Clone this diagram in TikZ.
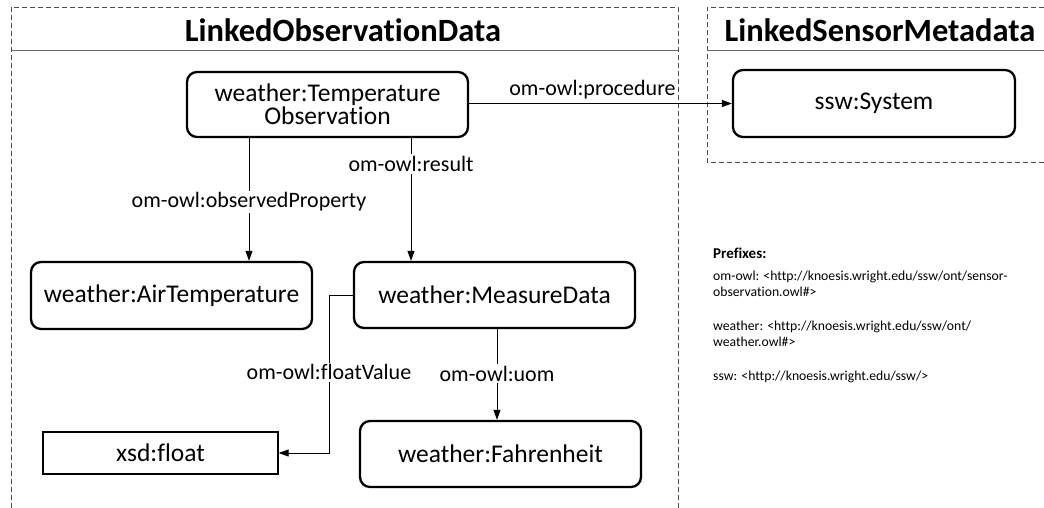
\documentclass[tikz,border=0pt]{standalone}
\usepackage{fontspec}
\setmainfont{Carlito}[Ligatures={NoCommon,NoContextual}]
\usetikzlibrary{arrows.meta}
\begin{document}
\begin{tikzpicture}[x=1pt,y=-1pt,
  frame/.style={draw=black!70,line width=0.9pt,dash pattern=on 5pt off 3pt},
  sep/.style={draw=black!60,line width=1pt},
  title/.style={font=\fontsize{32.5}{34}\selectfont\bfseries,inner sep=0pt},
  cls/.style={draw,line width=2.3pt,rounded corners=10pt,inner sep=0pt,align=center,
    font=\fontsize{25.5}{23}\selectfont},
  lit/.style={draw,line width=1.3pt,inner sep=0pt,font=\fontsize{25.5}{24}\selectfont},
  arr/.style={line width=0.9pt,-{Triangle[length=10pt,width=7pt]}},
  lbl/.style={fill=white,inner sep=2pt,font=\fontsize{22}{22}\selectfont},
  pfx/.style={anchor=west,inner sep=0pt,font=\fontsize{13.7}{14}\selectfont}]
\useasboundingbox (0,0) rectangle (1044,508);
% frames
\draw[frame] (11,508) -- (11,7) -- (678,7) -- (678,508);
\draw[sep] (11,51) -- (678,51);
\draw[frame] (1044,7) -- (707,7) -- (707,162) -- (1044,162);
\draw[sep] (707,51) -- (1044,51);
\node[title] (t1) at (343,30) {LinkedObservationData};
\node[title] (t2) at (880,30) {LinkedSensorMetadata};
% nodes
\node[cls,minimum width=281pt,minimum height=65pt] (TO) at (327.5,104.5)
  {weather:Temperature\\Observation};
\node[cls,minimum width=282pt,minimum height=67pt] (SY) at (874,103.5) {ssw:System};
\node[cls,minimum width=281pt,minimum height=67pt] (AT) at (171.5,295.5) {weather:AirTemperature};
\node[cls,minimum width=281pt,minimum height=66pt] (MD) at (494.5,295) {weather:MeasureData};
\node[cls,minimum width=281pt,minimum height=66pt] (FH) at (500.5,454) {weather:Fahrenheit};
\node[lit,minimum width=235pt,minimum height=42pt] (XF) at (160.5,453) {xsd:float};
% helper coordinates
\coordinate (cop) at (249,0);
\coordinate (cres) at (411,0);
\coordinate (cfv) at (329,0);
\coordinate (cuom) at (497,0);
% connectors
\draw[arr] (TO.east |- SY.west) -- node[midway,above=4pt,inner sep=0pt,font=\fontsize{22}{22}\selectfont,xshift=-8pt]{om-owl:procedure} (SY.west);
\draw[arr] (TO.south -| cop) -- node[lbl,pos=0.52]{om-owl:observedProperty} (AT.north -| cop);
\draw[arr] (TO.south -| cres) -- node[lbl,pos=0.21]{om-owl:result} (MD.north -| cres);
\draw[arr] (MD.west) -- (MD.west -| cfv) -- node[lbl,pos=0.49]{om-owl:floatValue} (XF.east -| cfv) -- (XF.east);
\draw[arr] (MD.south -| cuom) -- node[lbl,pos=0.49]{om-owl:uom} (FH.north -| cuom);
% prefixes
\node[pfx,font=\fontsize{15}{15}\selectfont\bfseries] (p0) at (713,253) {Prefixes:};
\node[pfx] (p1) at (713,277) {om-owl: <http://knoesis.wright.edu/ssw/ont/sensor-};
\node[pfx] (p2) at (713,292) {observation.owl\#>};
\node[pfx] (p3) at (713,327) {weather: <http://knoesis.wright.edu/ssw/ont/};
\node[pfx] (p4) at (713,342) {weather.owl\#>};
\node[pfx] (p5) at (713,377) {ssw: <http://knoesis.wright.edu/ssw/>};
\end{tikzpicture}
\end{document}
